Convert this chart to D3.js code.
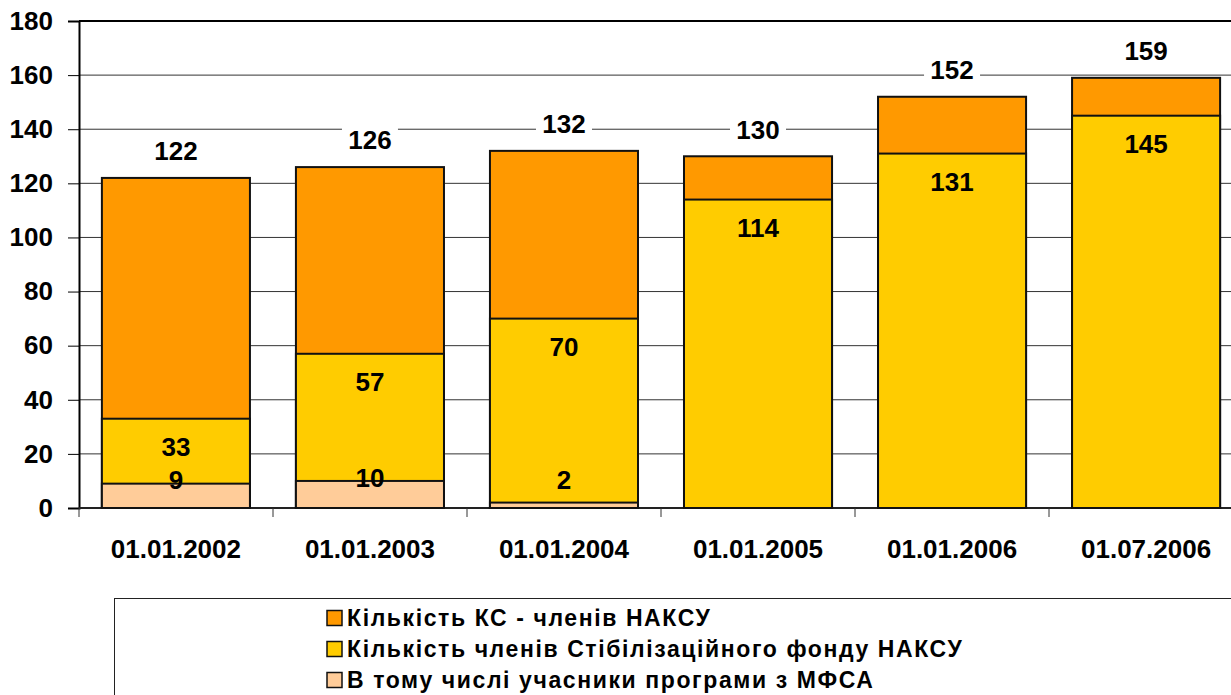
<!DOCTYPE html>
<html>
<head>
<meta charset="utf-8">
<script src="https://cdn.jsdelivr.net/npm/d3@7"></script>
<style>
  body { margin: 0; background: #fff; }
  svg { display: block; font-family: Arial, "Liberation Sans", sans-serif; font-weight: bold; }
</style>
</head>
<body>
<script>
const dates = ['01.01.2002', '01.01.2003', '01.01.2004', '01.01.2005', '01.01.2006', '01.07.2006'];
const totalKS = [122, 126, 132, 130, 152, 159];
const fundMembers = [33, 57, 70, 114, 131, 145];
const mfsaMembers = [9, 10, 2, null, null, null];
const seriesNames = [
  'Кількість КС - членів НАКСУ',
  'Кількість членів Стібілізаційного фонду НАКСУ',
  'В тому числі учасники програми з МФСА'
];
const colors = ['#FF9900', '#FFCC00', '#FFCC99'];
const yTicks = d3.range(0, 181, 20);

const width = 1231, height = 695;
const margin = { left: 79, top: 21, bottom: 187 };
const plotW = 6 * 194;

const svg = d3.select('body').append('svg')
    .attr('width', width)
    .attr('height', height);

const x = d3.scaleBand()
    .domain(dates)
    .range([margin.left, margin.left + plotW])
    .paddingInner(0.237)
    .paddingOuter(0.118);

const y = d3.scaleLinear()
    .domain([0, 180])
    .range([height - margin.bottom, margin.top]);

// gridlines
svg.append('g')
  .selectAll('line')
  .data(yTicks.slice(1, -1))
  .join('line')
    .attr('x1', margin.left).attr('x2', margin.left + plotW)
    .attr('y1', d => y(d)).attr('y2', d => y(d))
    .attr('stroke', '#333').attr('stroke-width', 1);

// top frame
svg.append('line')
    .attr('x1', margin.left).attr('x2', margin.left + plotW)
    .attr('y1', y(180)).attr('y2', y(180))
    .attr('stroke', '#000').attr('stroke-width', 2);

// y axis
const yAxis = svg.append('g')
    .attr('transform', `translate(${margin.left},0)`)
    .call(d3.axisLeft(y).tickValues(yTicks).tickSize(11).tickPadding(15));
yAxis.select('.domain').attr('stroke', '#000').attr('stroke-width', 2);
yAxis.selectAll('.tick line').attr('stroke', '#000');
yAxis.selectAll('text')
    .style('font-size', '26px').style('font-weight', 'bold')
    .attr('fill', '#000');

// x axis (ticks at category boundaries)
const bounds = d3.range(0, 7).map(i => margin.left + i * 194);
svg.append('line')
    .attr('x1', margin.left).attr('x2', margin.left + plotW)
    .attr('y1', y(0)).attr('y2', y(0))
    .attr('stroke', '#222').attr('stroke-width', 2);
svg.append('g')
  .selectAll('line')
  .data(bounds)
  .join('line')
    .attr('x1', d => d).attr('x2', d => d)
    .attr('y1', y(0)).attr('y2', y(0) + 9)
    .attr('stroke', '#333');
svg.append('g')
  .selectAll('text')
  .data(dates)
  .join('text')
    .attr('x', d => x(d) + x.bandwidth() / 2)
    .attr('y', y(0) + 41)
    .attr('dy', '0.36em')
    .attr('text-anchor', 'middle')
    .style('font-size', '26px')
    .text(d => d);

// bars, drawn overlapping from largest to smallest
const layers = [totalKS, fundMembers, mfsaMembers];
layers.forEach((vals, k) => {
  svg.append('g')
    .selectAll('rect')
    .data(dates.map((d, i) => ({ d, v: vals[i] })).filter(o => o.v != null))
    .join('rect')
      .attr('x', o => x(o.d))
      .attr('width', x.bandwidth())
      .attr('y', o => y(o.v))
      .attr('height', o => y(0) - y(o.v))
      .attr('fill', colors[k])
      .attr('stroke', '#111')
      .attr('stroke-width', 2);
});

// total labels with white background
const totalLbl = svg.append('g')
  .selectAll('g')
  .data(dates.map((d, i) => ({ d, v: totalKS[i] })))
  .join('g')
    .attr('transform', o => `translate(${x(o.d) + x.bandwidth() / 2},${y(o.v) - 27})`);
totalLbl.append('rect')
    .attr('x', -28).attr('y', -16).attr('width', 56).attr('height', 32)
    .attr('fill', '#fff');
totalLbl.append('text')
    .attr('text-anchor', 'middle')
    .attr('dy', '0.36em')
    .style('font-size', '26px')
    .text(o => o.v);

// fund labels inside bar top
svg.append('g')
  .selectAll('text')
  .data(dates.map((d, i) => ({ d, v: fundMembers[i] })))
  .join('text')
    .attr('x', o => x(o.d) + x.bandwidth() / 2)
    .attr('y', o => y(o.v) + 28)
    .attr('dy', '0.36em')
    .attr('text-anchor', 'middle')
    .style('font-size', '26px')
    .text(o => o.v);

// mfsa labels
svg.append('g')
  .selectAll('text')
  .data(dates.map((d, i) => ({ d, v: mfsaMembers[i] })).filter(o => o.v != null))
  .join('text')
    .attr('x', o => x(o.d) + x.bandwidth() / 2)
    .attr('y', o => Math.min(y(o.v) - 3, y(0) - 28))
    .attr('dy', '0.36em')
    .attr('text-anchor', 'middle')
    .style('font-size', '26px')
    .text(o => o.v);

// legend
const legend = svg.append('g');
legend.append('rect')
    .attr('x', 114.5).attr('y', 598.5)
    .attr('width', 1200).attr('height', 120)
    .attr('fill', '#fff').attr('stroke', '#222').attr('stroke-width', 1);
const li = legend.selectAll('g.item')
  .data(seriesNames)
  .join('g')
    .attr('class', 'item')
    .attr('transform', (d, i) => `translate(327,${618 + i * 31})`);
li.append('rect')
    .attr('x', 0).attr('y', -7.5).attr('width', 15).attr('height', 15)
    .attr('fill', (d, i) => colors[i])
    .attr('stroke', '#111').attr('stroke-width', 1.5);
li.append('text')
    .attr('x', 20)
    .attr('dy', '0.34em')
    .style('font-size', '23px')
    .style('letter-spacing', '1.6px')
    .text(d => d);
</script>
</body>
</html>
